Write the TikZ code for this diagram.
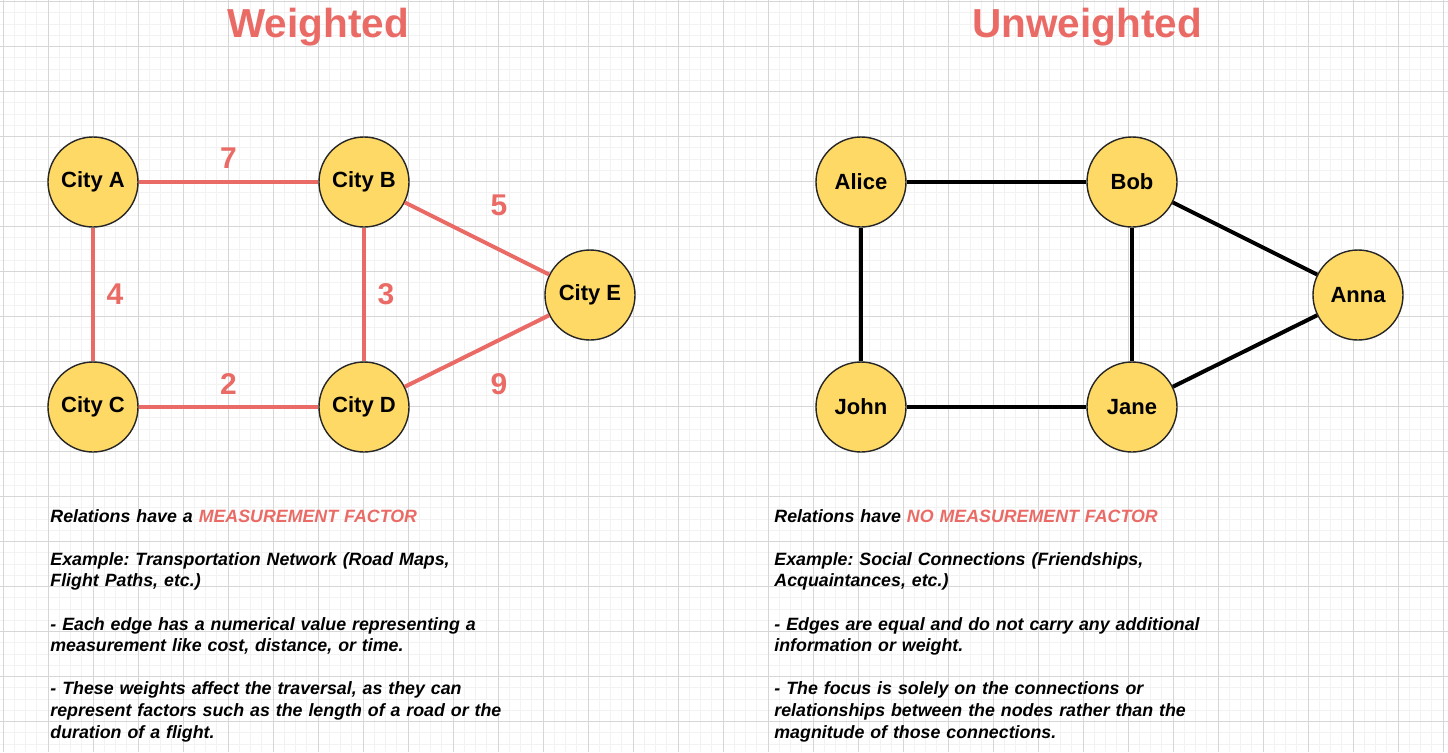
\documentclass[tikz,border=0pt]{standalone}
\usepackage{fontspec}
\setmainfont{Liberation Sans}
\usepackage{xcolor}
\usepackage{tikz}
\definecolor{wred}{HTML}{EA6B66}
\definecolor{cityfill}{HTML}{FFD966}
\definecolor{gridminor}{HTML}{F2F2F2}
\definecolor{gridmajor}{HTML}{D6D6D6}
\frenchspacing
\tikzset{
  city/.style={
    circle,draw=black!85,fill=cityfill,
    line width=.7pt,minimum size=45pt,inner sep=0pt,
    font=\bfseries\fontsize{11}{13}\selectfont
  },
  wedge/.style={draw=wred,line width=2pt},
  uedge/.style={draw=black,line width=2pt},
  weight/.style={font=\bfseries\fontsize{15}{18}\selectfont,text=wred},
  title/.style={anchor=base,font=\bfseries\fontsize{20.25}{24}\selectfont,text=wred},
  note/.style={
    anchor=base west,inner sep=0pt,text width=300pt,align=left,
    font=\bfseries\itshape\fontsize{8.9}{10.8}\selectfont
  },
  minorline/.style={draw=gridminor,line width=.5pt},
  majorline/.style={draw=gridmajor,line width=.5pt}
}

\begin{document}
\begin{tikzpicture}[x=0.5pt,y=-0.5pt]
\useasboundingbox[fill=white] (0,0) rectangle (1448,752);
% grid paper
\foreach \k in {0,...,128} \draw[minorline] ({3+11.25*\k},0) -- ({3+11.25*\k},752);
\foreach \k in {0,...,66} \draw[minorline] (0,{1.7+11.25*\k}) -- (1448,{1.7+11.25*\k});
\foreach \k in {0,...,32} \draw[majorline] ({3+45*\k},0) -- ({3+45*\k},752);
\foreach \k in {0,...,16} \draw[majorline] (0,{1.7+45*\k}) -- (1448,{1.7+45*\k});

% titles
\node[title] (tw) at (318,37) {Weighted};
\node[title] (tu) at (1087,37) {Unweighted};

% weighted graph
\node[city] (ca) at (93,182) {City A};
\node[city] (cb) at (364,182) {City B};
\node[city] (cc) at (93,407) {City C};
\node[city] (cd) at (364,407) {City D};
\node[city] (ce) at (590,295) {City E};
\draw[wedge] (ca) -- node[weight,yshift=12pt] {7} (cb);
\draw[wedge] (ca) -- node[weight,xshift=11pt] {4} (cc);
\draw[wedge] (cb) -- node[weight,xshift=11pt] {3} (cd);
\draw[wedge] (cc) -- node[weight,yshift=11.5pt] {2} (cd);
\draw[wedge] (cb) -- node[weight,xshift=11pt,yshift=16.75pt] {5} (ce);
\draw[wedge] (cd) -- node[weight,xshift=11pt,yshift=-16.5pt] {9} (ce);

% unweighted graph
\node[city] (alice) at (861,182) {Alice};
\node[city] (bob) at (1132,182) {Bob};
\node[city] (john) at (861,407) {John};
\node[city] (jane) at (1132,407) {Jane};
\node[city] (anna) at (1358,295) {Anna};
\draw[uedge] (alice) -- (bob);
\draw[uedge] (alice) -- (john);
\draw[uedge] (bob) -- (jane);
\draw[uedge] (john) -- (jane);
\draw[uedge] (bob) -- (anna);
\draw[uedge] (jane) -- (anna);

% notes
\node[note] (nw) at (50,522) {Relations have a \textcolor{wred}{MEASUREMENT FACTOR}\\[10.8pt]
Example: Transportation Network (Road Maps,\\
Flight Paths, etc.)\\[10.8pt]
- Each edge has a numerical value representing a\\
measurement like cost, distance, or time.\\[10.8pt]
- These weights affect the traversal, as they can\\
represent factors such as the length of a road or the\\
duration of a flight.};
\node[note] (nu) at (774,522) {Relations have \textcolor{wred}{NO MEASUREMENT FACTOR}\\[10.8pt]
Example: Social Connections (Friendships,\\
Acquaintances, etc.)\\[10.8pt]
- Edges are equal and do not carry any additional\\
information or weight.\\[10.8pt]
- The focus is solely on the connections or\\
relationships between the nodes rather than the\\
magnitude of those connections.};
\end{tikzpicture}
\end{document}
